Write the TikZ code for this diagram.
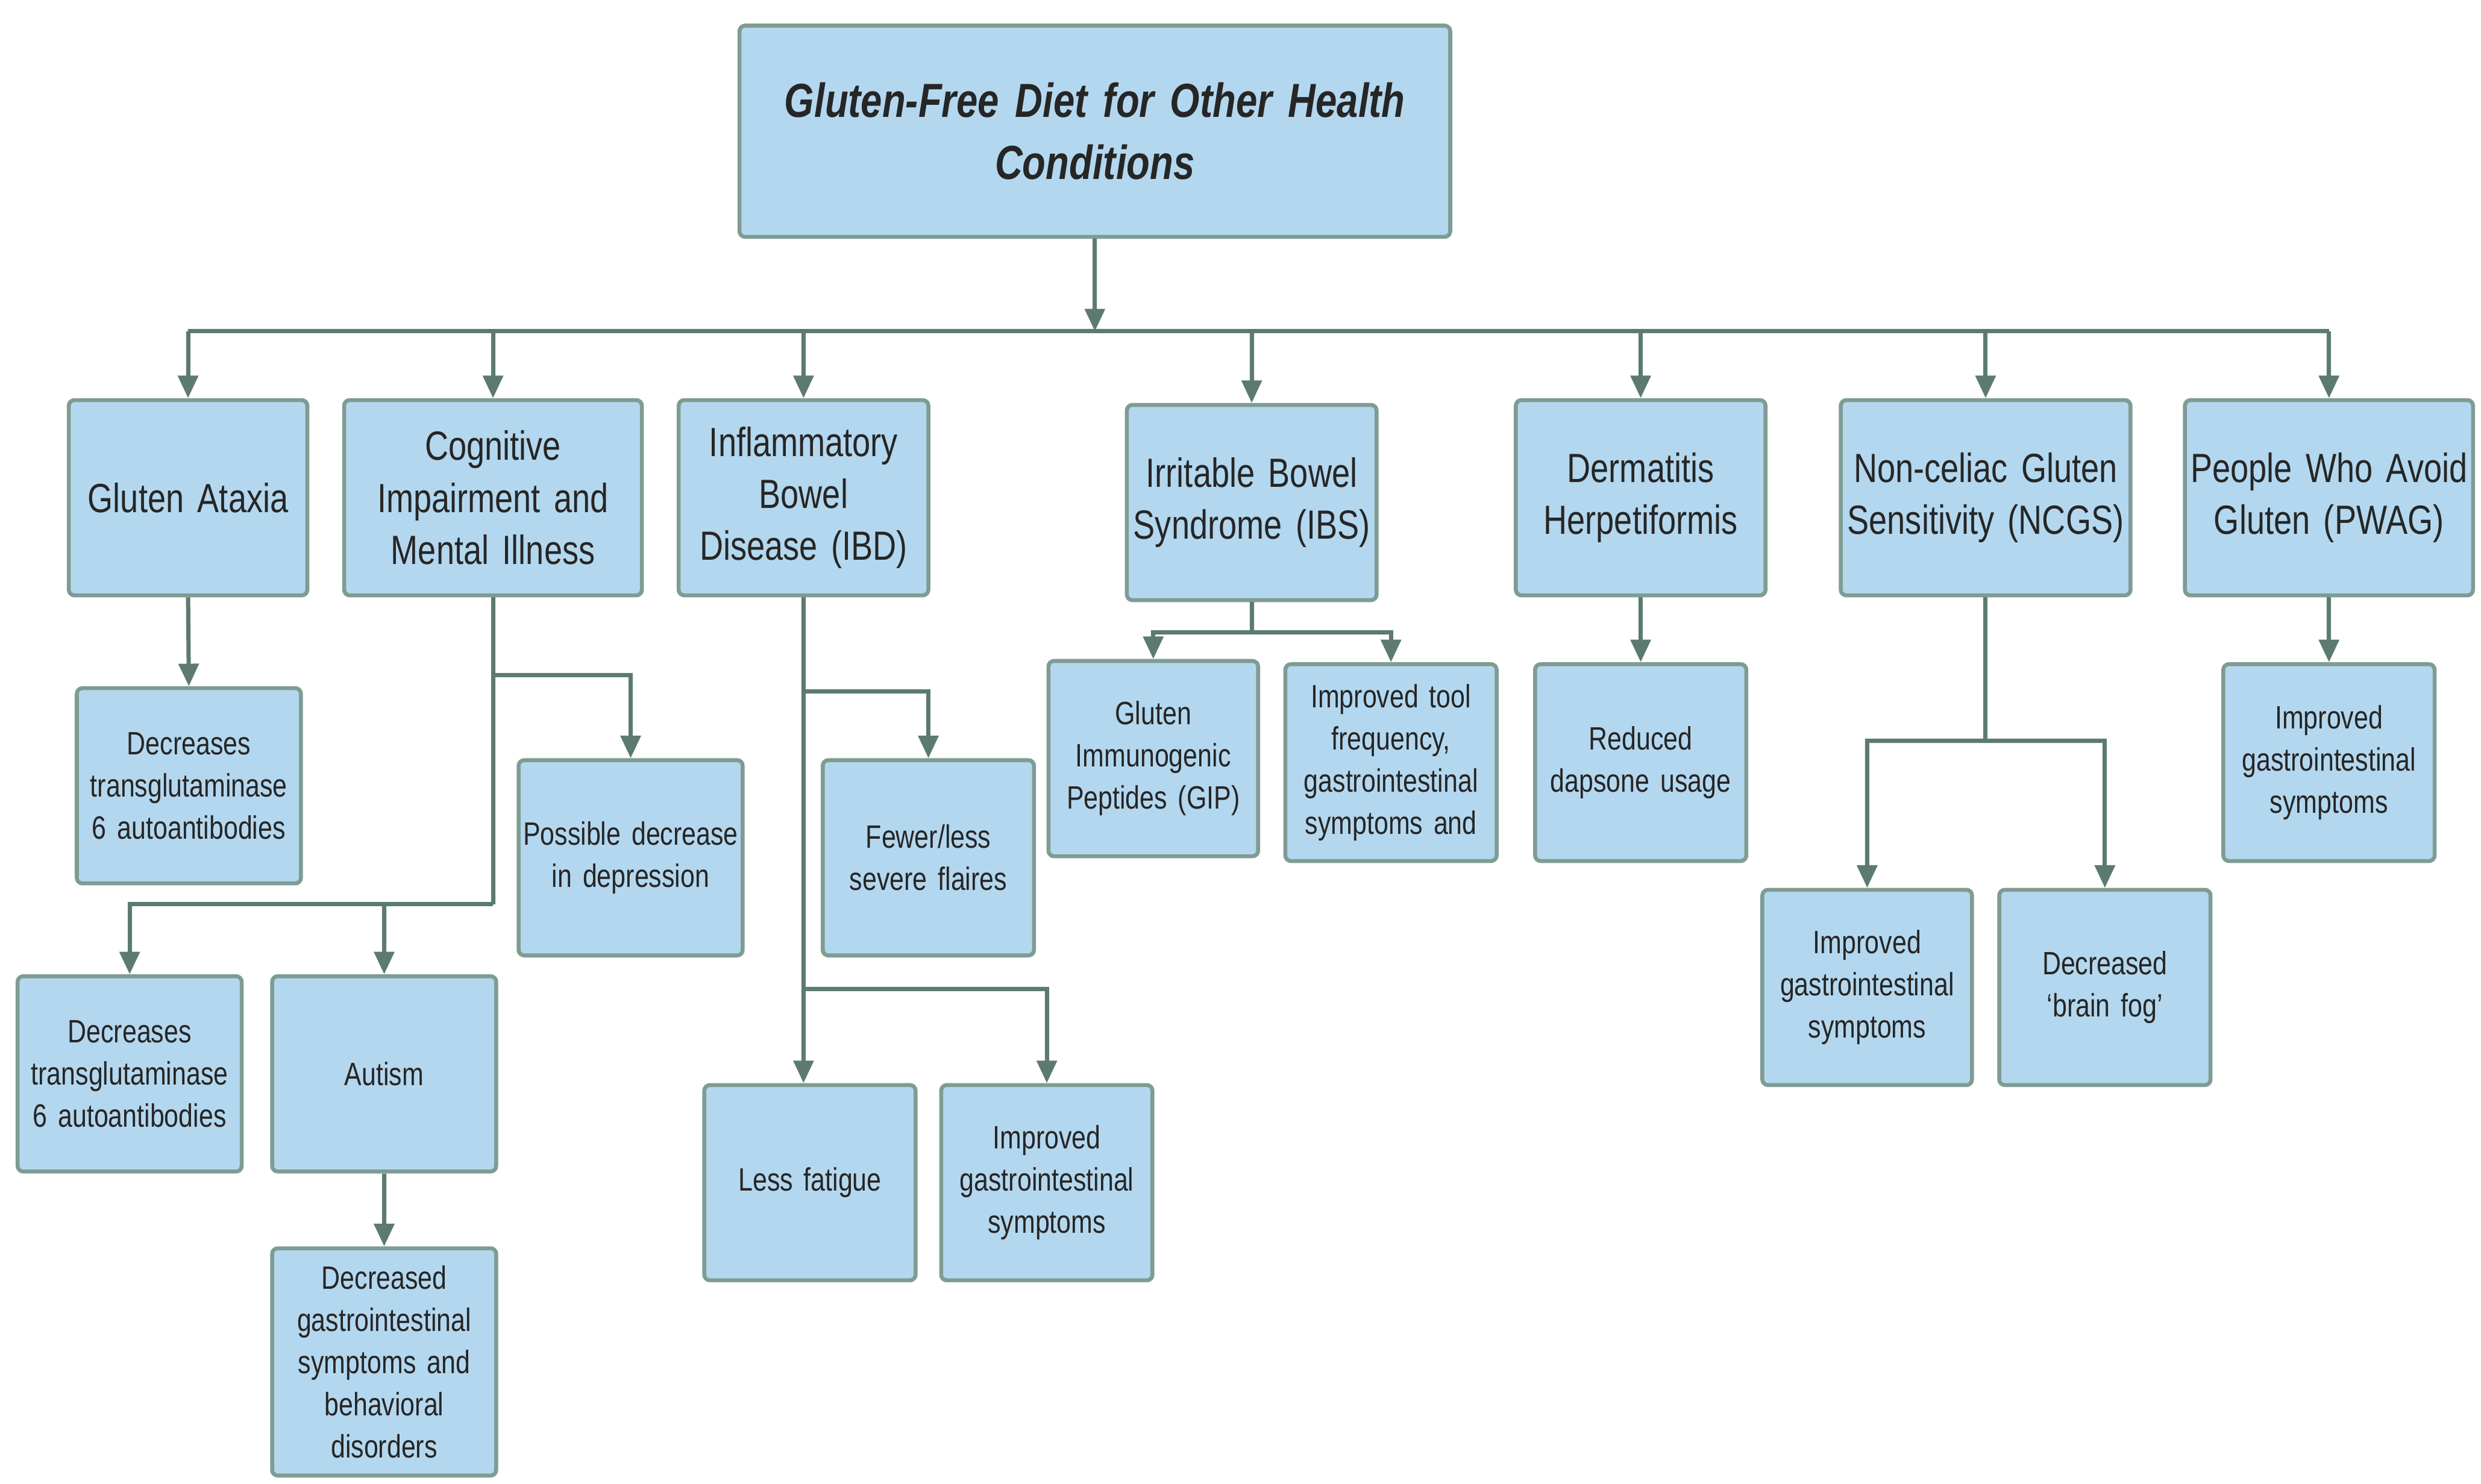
\documentclass[tikz,border=0pt]{standalone}
\usepackage{fontspec}
\setmainfont[FakeStretch=0.8]{Liberation Sans}
\usetikzlibrary{arrows.meta}
\hyphenpenalty=10000
\exhyphenpenalty=10000
\definecolor{boxfill}{HTML}{B3D7EE}
\definecolor{boxline}{HTML}{7E9C93}
\definecolor{conn}{HTML}{5C7A72}
\tikzset{
  mybox/.style={draw=boxline, line width=1.4pt, fill=boxfill, rounded corners=2pt, align=center, inner sep=1pt, text=black!85},
  ln/.style={draw=conn, line width=1.5pt},
  arr/.style={ln, -{Triangle[width=7pt,length=8pt]}},
  lvone/.style={font=\fontsize{14.5}{18.5}\selectfont},
  lvtwo/.style={font=\fontsize{11.5}{15}\selectfont}
}
\newcommand\mybox[7]{%
  \pgfmathsetmacro\cx{(#2+#4)/2}\pgfmathsetmacro\cy{(#3+#5)/2}%
  \pgfmathsetmacro\ww{(#4-#2)*0.02}\pgfmathsetmacro\hh{(#5-#3)*0.02}%
  \pgfmathsetmacro\tw{(#4-#2)*0.02-0.08}%
  \node[mybox,#6,minimum width=\ww cm,minimum height=\hh cm,text width=\tw cm] (#1) at (\cx,\cy) {#7};}
\begin{document}
\begin{tikzpicture}[x=0.02cm,y=-0.02cm]
\fill[white] (0,0) rectangle (1550,927);
\mybox{title}{462}{16}{906}{148}{font=\fontsize{17}{22}\selectfont\bfseries\itshape}{Gluten-Free Diet for Other Health\\Conditions}
\mybox{ga}{43}{250}{192}{372}{lvone}{Gluten Ataxia}
\mybox{ci}{215}{250}{401}{372}{lvone}{Cognitive Impairment and Mental Illness}
\mybox{ibd}{424}{250}{580}{372}{lvone}{Inflammatory Bowel Disease (IBD)}
\mybox{ibs}{704}{253}{860}{375}{lvone}{Irritable Bowel Syndrome (IBS)}
\mybox{dh}{947}{250}{1103}{372}{lvone}{Dermatitis Herpetiformis}
\mybox{ncgs}{1150}{250}{1331}{372}{lvone}{Non-celiac Gluten Sensitivity (NCGS)}
\mybox{pwag}{1365}{250}{1545}{372}{lvone}{People Who Avoid Gluten (PWAG)}
\mybox{gac}{48}{430}{188}{552}{lvtwo}{Decreases transglutaminase 6~autoantibodies}
\mybox{pd}{324}{475}{464}{597}{lvtwo}{Possible decrease in depression}
\mybox{dt}{11}{610}{151}{732}{lvtwo}{Decreases transglutaminase 6~autoantibodies}
\mybox{aut}{170}{610}{310}{732}{lvtwo}{Autism}
\mybox{dg}{170}{780}{310}{922}{lvtwo}{Decreased gastrointestinal symptoms and behavioral disorders}
\mybox{fl}{514}{475}{646}{597}{lvtwo}{Fewer/less severe flaires}
\mybox{lf}{440}{678}{572}{800}{lvtwo}{Less fatigue}
\mybox{igi}{588}{678}{720}{800}{lvtwo}{Improved gastrointestinal symptoms}
\mybox{gip}{655}{413}{786}{535}{lvtwo}{Gluten Immunogenic Peptides (GIP)}
\mybox{itf}{803}{415}{935}{538}{lvtwo}{Improved tool frequency, gastrointestinal symptoms and}
\mybox{rd}{959}{415}{1091}{538}{lvtwo}{Reduced dapsone usage}
\mybox{ncg1}{1101}{556}{1232}{678}{lvtwo}{Improved gastrointestinal symptoms}
\mybox{ncg2}{1249}{556}{1381}{678}{lvtwo}{Decreased `brain fog'}
\mybox{pw1}{1389}{415}{1521}{538}{lvtwo}{Improved gastrointestinal symptoms}
% bus
\coordinate (bus) at (0,207);
\draw[arr] (title.south) -- (title.south |- bus);
\draw[ln] (ga.north |- bus) -- (pwag.north |- bus);
\foreach \n in {ga,ci,ibd,ibs,dh,ncgs,pwag}{\draw[arr] (\n.north |- bus) -- (\n.north);}
% GA
\draw[arr] (ga.south) -- (gac.north);
% CI
\coordinate (c1) at (0,422); \coordinate (c2) at (0,565);
\draw[ln] (ci.south) -- (ci.south |- c2);
\draw[arr] (ci.south |- c1) -| (pd.north);
\draw[arr] (ci.south |- c2) -| (dt.north);
\draw[arr] (aut.north |- c2) -- (aut.north);
\draw[arr] (aut.south) -- (dg.north);
% IBD
\coordinate (i1) at (0,432); \coordinate (i2) at (0,618);
\draw[arr] (ibd.south) -- (ibd.south |- lf.north);
\draw[arr] (ibd.south |- i1) -| (fl.north);
\draw[arr] (ibd.south |- i2) -| (igi.north);
% IBS
\coordinate (s1) at (0,395);
\draw[ln] (ibs.south) -- (ibs.south |- s1);
\draw[arr] (ibs.south |- s1) -| (gip.north);
\draw[arr] (ibs.south |- s1) -| (itf.north);
% DH, PWAG
\draw[arr] (dh.south) -- (rd.north);
\draw[arr] (pwag.south) -- (pw1.north);
% NCGS
\coordinate (n1) at (0,463);
\draw[ln] (ncgs.south) -- (ncgs.south |- n1);
\draw[arr] (ncgs.south |- n1) -| (ncg1.north);
\draw[arr] (ncgs.south |- n1) -| (ncg2.north);
\end{tikzpicture}
\end{document}
